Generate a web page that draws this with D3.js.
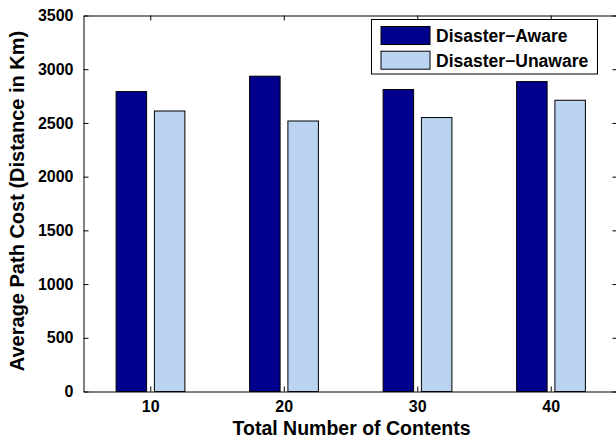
<!DOCTYPE html>
<html>
<head>
<meta charset="utf-8">
<script src="https://cdn.jsdelivr.net/npm/d3@7"></script>
<style>
  html, body { margin: 0; padding: 0; background: #fff; }
  svg text { font-family: "Liberation Sans", Arial, Helvetica, sans-serif; font-weight: bold; fill: #000; }
</style>
</head>
<body>
<svg id="chart" width="616" height="442"></svg>
<script>
// Total number of contents on the x axis
const contents = [10, 20, 30, 40];
// Average path cost (km) per scheme
const awareCost = [2792, 2935, 2811, 2885];
const unawareCost = [2611, 2518, 2550, 2711];
const seriesNames = ["Disaster\u2212Aware", "Disaster\u2212Unaware"];
const yTicks = [0, 500, 1000, 1500, 2000, 2500, 3000, 3500];

const colors = ["#00008C", "#B9D3F1"];
const svg = d3.select("#chart");

const plotL = 83.5, plotR = 617.5, plotT = 15.5, plotB = 391.5;
const x = d3.scaleLinear().domain([5, 45]).range([plotL, plotR]);
const y = d3.scaleLinear().domain([0, 3500]).range([plotB, plotT]);

const barW = 30.5;      // px
const offsets = [-18.9, 19.4];

const series = [awareCost, unawareCost];

// Bars
series.forEach((vals, si) => {
  svg.append("g").selectAll("rect")
    .data(contents.map((c, i) => ({ c, v: vals[i] })))
    .join("rect")
    .attr("x", d => x(d.c) + offsets[si] - barW / 2)
    .attr("y", d => y(d.v))
    .attr("width", barW)
    .attr("height", d => y(0) - y(d.v))
    .attr("fill", colors[si])
    .attr("stroke", "#000")
    .attr("stroke-width", 1);
});

// Axes: box with inward ticks on all four sides
const tickLen = 5;
const axisStyle = g => {
  g.selectAll("path, line").attr("stroke", "#000").attr("stroke-width", 1);
  g.selectAll("text").attr("font-size", 16);
};

svg.append("g")
  .attr("transform", `translate(0,${plotB})`)
  .call(d3.axisBottom(x).tickValues(contents).tickSize(-tickLen).tickSizeOuter(0).tickPadding(9.5))
  .call(axisStyle);

svg.append("g")
  .attr("transform", `translate(0,${plotT})`)
  .call(d3.axisTop(x).tickValues(contents).tickSize(-tickLen).tickSizeOuter(0).tickFormat(""))
  .call(axisStyle);

svg.append("g")
  .attr("transform", `translate(${plotL},0)`)
  .call(d3.axisLeft(y).tickValues(yTicks).tickSize(-tickLen).tickSizeOuter(0)
    .tickPadding(10).tickFormat(d3.format("d")))
  .call(axisStyle);

svg.append("g")
  .attr("transform", `translate(${plotR},0)`)
  .call(d3.axisRight(y).tickValues(yTicks).tickSize(-tickLen).tickSizeOuter(0).tickFormat(""))
  .call(axisStyle);

// Axis titles
svg.append("text")
  .attr("x", (plotL + plotR) / 2 + 1)
  .attr("y", 434.5)
  .attr("text-anchor", "middle")
  .attr("font-size", 19.5)
  .text("Total Number of Contents");

svg.append("text")
  .attr("transform", `translate(23.5,201) rotate(-90)`)
  .attr("text-anchor", "middle")
  .attr("font-size", 20)
  .text("Average Path Cost (Distance in Km)");

// Legend
const lg = svg.append("g");
lg.append("rect")
  .attr("x", 371.5).attr("y", 19.5).attr("width", 226).attr("height", 54.5)
  .attr("fill", "#fff").attr("stroke", "#000").attr("stroke-width", 1);
seriesNames.forEach((name, i) => {
  const yy = 26.5 + i * 24.7;
  lg.append("rect")
    .attr("x", 381).attr("y", yy).attr("width", 49).attr("height", 18)
    .attr("fill", colors[i]).attr("stroke", "#000").attr("stroke-width", 1);
  lg.append("text")
    .attr("x", 436).attr("y", yy + 15.3)
    .attr("font-size", 17.5)
    .text(name);
});
</script>
</body>
</html>
